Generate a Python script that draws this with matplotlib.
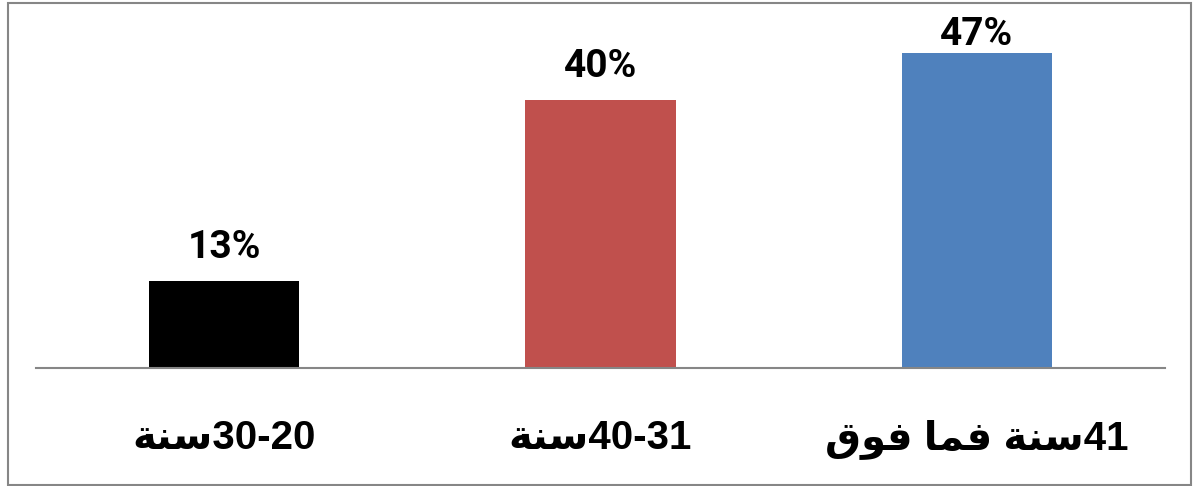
import matplotlib
matplotlib.use("Agg")
import matplotlib.pyplot as plt
from matplotlib.patches import Rectangle

# Category labels written in visual order with Arabic presentation forms
# (matplotlib has no bidi / shaping), i.e. "20-30سنة", "31-40سنة", "41سنة فما فوق"
categories = [
    "\uFE94\uFEE8\uFEB3" + "30-20",
    "\uFE94\uFEE8\uFEB3" + "40-31",
    "\uFED5\uFEEE\uFED3 \uFE8E\uFEE4\uFED3 \uFE94\uFEE8\uFEB3" + "41",
]
values = [13, 40, 47]
bar_colors = ["#000000", "#C0504D", "#4F81BD"]

W, H = 1195, 486
fig = plt.figure(figsize=(W / 100, H / 100), dpi=100)
ax = fig.add_axes([36 / W, (H - 368) / H, 1129 / W, 335 / H])

x = range(len(values))
ax.bar(x, values, width=0.4, color=bar_colors)
ax.set_xlim(-0.5, 2.5)
ax.set_ylim(0, 50)

# value labels above the bars; pushed down if they would leave the chart
for xi, v in zip(x, values):
    px, py = ax.transData.transform((xi, v))
    base = min(py + 23, H - 45)
    fig.text(px / W, base / H, f"{v}%", ha="center", va="baseline",
             fontsize=28, fontweight="bold",
             family=["Roboto", "Liberation Sans", "DejaVu Sans"])

ax.set_xticks(list(x))
ax.set_xticklabels(categories, fontsize=29, fontweight="bold",
                   family=["Liberation Sans", "DejaVu Sans"])
ax.tick_params(axis="x", length=0, pad=37)
ax.set_yticks([])

for side in ["top", "left", "right"]:
    ax.spines[side].set_visible(False)
ax.spines["bottom"].set_color("#868686")
ax.spines["bottom"].set_linewidth(1.5)

# grey frame around the chart area
fig.patches.append(Rectangle((8 / W, 1 / H), 1183 / W, 482 / H,
                             transform=fig.transFigure, fill=False,
                             edgecolor="#868686", linewidth=1.5))

fig.savefig("out.png", dpi=100)
